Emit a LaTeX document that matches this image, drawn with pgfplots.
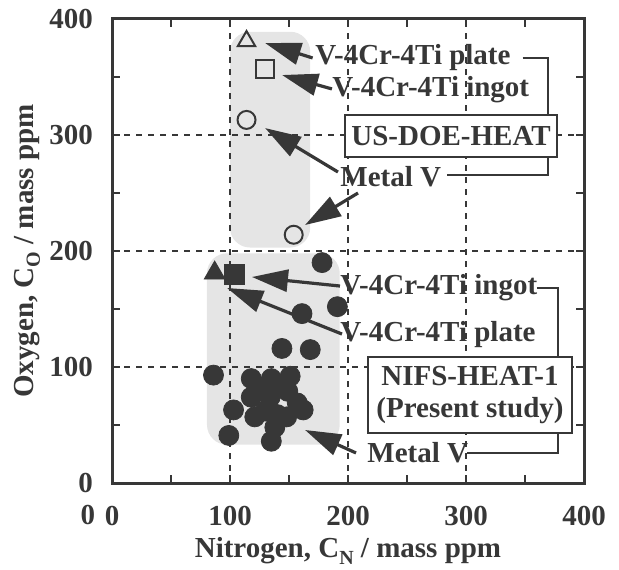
\documentclass[border=0pt]{standalone}
\usepackage{fontspec}
\setmainfont{Liberation Serif}
\usepackage{pgfplots}
\pgfplotsset{compat=1.18}
\usetikzlibrary{arrows.meta}
\definecolor{ink}{RGB}{55,55,55}
\definecolor{grpfill}{RGB}{229,229,229}
\newcommand{\lbl}{\fontsize{14.5bp}{16bp}\selectfont\bfseries}

\pgfplotstableread{
x y
178 190
191 152
161 146
144 116
168 115
86 93
118 90
135 90
151 92
118 74
134 74
149 79
103 63
121 57
140 59
162 63
148 57
138 48
99 41
135 36
157 69
128 82
143 84
130 62
}\nifsmetal

\begin{document}
\begin{tikzpicture}
\begin{axis}[
  set layers=standard,
  width=236bp, height=232bp, scale only axis,
  xmin=0, xmax=400, ymin=0, ymax=400,
  xtick={0,100,200,300,400}, ytick={0,100,200,300,400},
  minor tick num=1,
  tick align=inside, major tick length=4bp, minor tick length=4bp,
  every tick/.style={ink, line width=1.2bp},
  grid=major, grid style={ink, line width=0.7bp, dash pattern=on 3bp off 3bp},
  axis line style={ink, line width=1.5bp},
  tick label style={font=\lbl, text=ink},
  /pgf/number format/assume math mode=true,
  yticklabel style={xshift=-6bp},
  xticklabel style={yshift=-8bp},
  xlabel={Nitrogen, C\raisebox{-0.5ex}{\fontsize{10bp}{10bp}\selectfont N} / mass ppm},
  ylabel={Oxygen, C\raisebox{-0.5ex}{\fontsize{10bp}{10bp}\selectfont O} / mass ppm},
  label style={font=\lbl, text=ink},
  xlabel style={at={(axis description cs:0.5,-0.146)}, anchor=center},
  ylabel style={at={(axis description cs:-0.18,0.5)}, anchor=center},
  clip=false,
]
% shaded groups
\begin{pgfonlayer}{axis background}
\fill[grpfill, rounded corners=10bp] (axis cs:100,389) rectangle (axis cs:168,203);
\fill[grpfill, rounded corners=10bp] (axis cs:80.5,198) rectangle (axis cs:193,33);
\end{pgfonlayer}

% brackets
\draw[ink, line width=1.3bp] (axis cs:348,366.4) -- (axis cs:369.5,366.4) -- (axis cs:369.5,265.5) -- (axis cs:284,265.5);
\draw[ink, line width=1.3bp] (axis cs:360,168.1) -- (axis cs:378,168.1) -- (axis cs:378,25.9) -- (axis cs:301,25.9);

% NIFS-HEAT-1
\addplot[only marks, mark=*, mark size=5bp, draw=ink, fill=ink] table {\nifsmetal};
\addplot[only marks, mark=square*, mark size=5bp, draw=ink, fill=ink] coordinates {(104,180)};
\addplot[only marks, mark=triangle*, mark size=6bp, draw=ink, fill=ink] coordinates {(87,181)};

% US-DOE-HEAT
\addplot[only marks, mark=o, mark size=4.5bp, ink, line width=1bp, mark options={fill=white}] coordinates {(114,313)(154,214)};
\addplot[only marks, mark=square, mark size=4.5bp, ink, line width=1bp, mark options={fill=white}] coordinates {(130,357)};
\addplot[only marks, mark=triangle, mark size=5bp, ink, line width=1bp, mark options={fill=white}] coordinates {(114,381)};

% arrows
\tikzset{ann/.style={ink, line width=1.6bp, -{Triangle[length=18bp,width=11bp]}}}
\draw[ann] (axis cs:170,366.4) -- (axis cs:129.7,379.3);
\draw[ann] (axis cs:186.4,339.7) -- (axis cs:144.1,351.7);
\draw[ann] (axis cs:191.5,268.1) -- (axis cs:129.7,306);
\draw[ann] (axis cs:208.5,250) -- (axis cs:163.6,222.4);
\draw[ann] (axis cs:193.2,169.8) -- (axis cs:118.6,177.6);
\draw[ann] (axis cs:194.9,128.4) -- (axis cs:97.5,168.1);
\draw[ann] (axis cs:206.8,25.9) -- (axis cs:163.6,45.7);

% labels
\node[anchor=west, inner sep=0, text=ink, font=\lbl] at (axis cs:172,366.4) {V-4Cr-4Ti plate};
\node[anchor=west, inner sep=0, text=ink, font=\lbl] at (axis cs:186.4,338.8) {V-4Cr-4Ti ingot};
\node[anchor=west, inner sep=0, text=ink, font=\lbl] at (axis cs:193.2,263.8) {Metal V};
\node[draw=ink, line width=1.3bp, fill=white, text=ink, font=\lbl, minimum width=106bp, minimum height=21bp, inner sep=2bp] at (axis cs:287.3,299.1) {US-DOE-HEAT};
\node[anchor=west, inner sep=0, text=ink, font=\lbl] at (axis cs:193.2,168.1) {V-4Cr-4Ti ingot};
\node[anchor=west, inner sep=0, text=ink, font=\lbl] at (axis cs:193.2,127.6) {V-4Cr-4Ti plate};
\node[draw=ink, line width=1.3bp, fill=white, text=ink, font=\lbl, align=center, minimum width=102bp, minimum height=38bp, inner sep=3bp] at (axis cs:303.4,75.9) {NIFS-HEAT-1\\(Present study)};
\node[anchor=west, inner sep=0, text=ink, font=\lbl] at (axis cs:216.1,25.9) {Metal V};
\node[text=ink, font=\lbl] at (rel axis cs:-0.051,-0.069) {0};
\end{axis}
\pgfresetboundingbox
\path (-56bp,-43.5bp) rectangle (253.5bp,241.5bp);
\end{tikzpicture}
\end{document}
